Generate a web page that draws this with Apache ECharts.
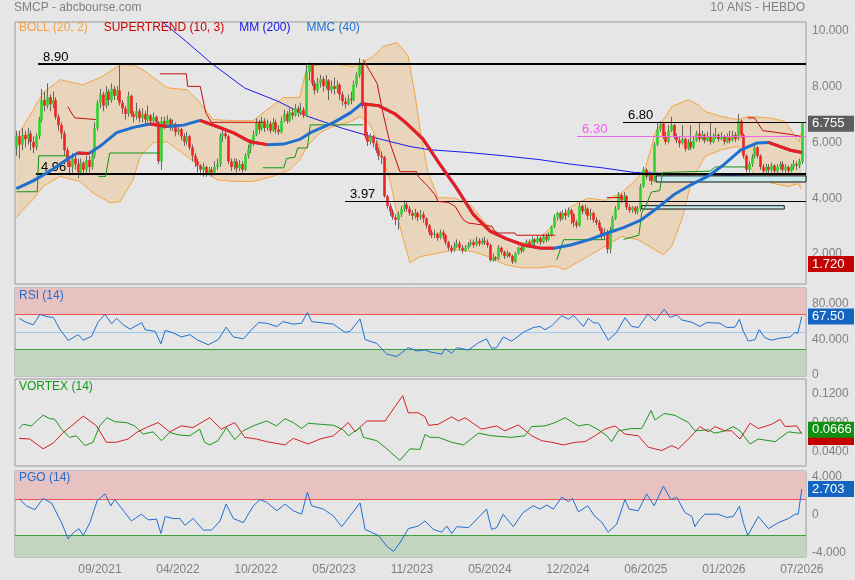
<!DOCTYPE html>
<html><head><meta charset="utf-8">
<script src="https://cdn.jsdelivr.net/npm/echarts@6/dist/echarts.min.js"></script>
<style>html,body{margin:0;padding:0;background:#e6e6e6;}#c{width:855px;height:580px;}</style>
</head><body><div id="c"></div>
<script>
// ---- time axis (weekly candles) ----
const weekStart = Date.UTC(2021, 1, 22);
const weekCount = 284;
const firstLabelWeek = 30, labelEvery = 28;

// ---- weekly OHLC ----
const open = [
5.9,6.3,6.0,6.35,6.2,6.4,6.1,5.9,6.3,6.9,
7.6,7.4,7.7,7.45,7.6,7.0,6.7,6.4,5.8,5.4,
5.2,5.5,5.3,5.0,5.35,5.1,5.45,5.2,5.6,6.6,
7.5,7.8,7.4,7.9,7.6,8.0,7.75,7.95,7.5,7.3,
7.1,7.75,7.1,7.0,7.2,6.95,7.1,6.9,7.05,6.85,
7.0,6.8,5.4,6.85,6.7,6.9,6.6,6.75,6.45,6.55,
6.3,6.1,6.3,5.9,5.6,5.4,5.25,5.1,5.2,4.95,
5.1,5.0,5.2,5.3,6.3,6.4,6.3,5.4,5.2,5.4,
5.15,5.3,5.1,5.6,5.85,6.05,6.35,6.8,6.55,6.85,
6.6,6.75,6.5,6.8,6.55,6.45,6.85,7.1,6.85,7.15,
7.05,7.3,7.15,7.25,7.05,8.6,8.85,8.2,7.95,8.2,
8.35,8.1,8.3,7.95,8.1,8.0,8.15,7.8,7.55,7.45,
7.65,7.6,8.15,8.5,8.85,7.4,6.3,6.1,6.3,6.05,
5.8,5.6,5.55,4.15,3.8,3.6,3.4,3.3,3.5,3.7,
3.85,3.7,3.55,3.45,3.55,3.4,3.5,3.35,3.1,2.85,
2.75,2.8,2.65,2.85,2.75,2.5,2.3,2.2,2.35,2.45,
2.3,2.2,2.3,2.4,2.5,2.4,2.55,2.45,2.55,2.5,
2.4,1.85,1.95,1.9,2.3,2.15,2.0,2.1,2.0,1.8,
2.1,2.3,2.2,2.35,2.5,2.4,2.6,2.5,2.65,2.5,
2.7,2.6,2.75,3.05,3.4,3.55,3.35,3.55,3.45,3.65,
3.5,3.2,3.1,3.8,3.6,3.7,3.45,3.55,3.3,3.2,
3.0,2.75,2.85,2.25,2.95,3.35,3.7,4.2,4.0,4.15,
3.75,3.65,3.75,3.6,3.7,4.5,5.1,4.85,4.95,4.7,
6.0,6.55,6.75,6.3,6.1,6.5,6.7,6.3,6.15,6.05,
6.2,5.85,6.1,5.9,6.15,6.4,6.2,6.35,6.15,6.3,
6.1,6.25,6.35,6.2,6.3,6.1,6.25,6.15,6.35,6.2,
6.85,6.35,5.6,5.1,5.3,5.55,5.9,5.6,5.2,5.05,
5.2,5.1,5.25,5.05,5.2,5.3,5.1,5.2,5.05,5.2,
5.3,5.25,5.4];
const high = [
6.5,6.5,6.6,6.5,6.6,6.5,6.3,6.4,7.0,8.0,
7.9,8.2,7.8,7.9,7.7,7.1,6.8,6.5,5.9,5.6,
5.7,5.7,5.5,5.5,5.4,5.6,5.6,5.8,6.8,7.6,
8.0,7.9,8.1,8.0,8.2,8.1,8.1,8.85,7.6,7.4,
7.9,7.8,7.2,7.5,7.3,7.3,7.2,7.4,7.1,7.15,
7.05,6.85,7.0,7.0,7.05,6.95,6.9,6.8,6.7,6.6,
6.4,6.45,6.35,6.0,5.7,5.5,5.3,5.35,5.25,5.2,
5.2,5.4,5.5,6.4,6.6,6.5,6.35,5.5,5.5,5.5,
5.45,5.4,5.7,6.0,6.2,6.5,6.95,6.9,7.0,6.95,
6.9,6.85,6.95,6.9,6.7,7.0,7.25,7.2,7.3,7.3,
7.45,7.4,7.5,7.35,8.9,8.95,8.9,8.3,8.4,8.5,
8.45,8.5,8.35,8.3,8.4,8.3,8.2,7.9,7.7,7.8,
7.9,8.3,8.6,9.1,8.9,7.45,6.45,6.4,6.35,6.15,
5.9,5.75,5.6,4.2,3.9,3.7,3.5,3.6,3.8,4.0,
3.95,3.8,3.65,3.7,3.6,3.65,3.6,3.4,3.15,2.95,
2.95,2.85,2.95,2.95,2.8,2.55,2.4,2.5,2.6,2.55,
2.4,2.4,2.5,2.6,2.6,2.7,2.65,2.65,2.7,2.6,
2.45,2.1,2.0,2.4,2.35,2.2,2.2,2.15,2.05,2.15,
2.35,2.35,2.45,2.6,2.6,2.7,2.65,2.75,2.7,2.8,
2.8,2.85,3.1,3.5,3.6,3.6,3.65,3.7,3.75,3.7,
3.55,3.3,3.9,3.85,3.85,3.75,3.7,3.6,3.4,3.3,
3.05,3.0,2.95,3.05,3.45,3.8,4.3,4.25,4.3,4.2,
3.85,3.8,3.8,3.8,4.6,5.2,5.15,5.05,5.0,6.1,
6.8,6.85,6.8,6.45,6.7,7.0,6.75,6.4,6.3,6.7,
6.25,6.2,6.7,6.3,6.5,6.8,6.5,6.4,6.45,6.8,
6.4,6.6,6.4,6.45,6.35,6.4,6.5,6.5,6.45,7.1,
6.9,6.4,5.65,5.4,5.65,6.0,5.95,5.65,5.3,5.3,
5.3,5.35,5.3,5.3,5.4,5.4,5.3,5.25,5.3,5.45,
5.4,5.5,6.8];
const low = [
5.6,5.5,5.8,5.9,6.0,5.8,5.7,5.8,6.2,6.8,
7.2,7.3,7.2,7.3,6.9,6.5,6.2,5.6,5.2,4.9,
5.0,5.1,4.8,4.9,4.9,5.0,5.0,5.1,5.5,6.5,
7.3,7.2,7.3,7.4,7.5,7.6,7.6,7.4,7.1,6.9,
7.0,7.0,6.8,6.9,6.8,6.8,6.7,6.8,6.7,6.75,
6.7,5.3,5.1,6.55,6.6,6.5,6.5,6.3,6.35,6.15,
5.95,6.0,5.8,5.4,5.2,5.0,4.9,4.85,4.85,4.9,
4.85,4.9,5.1,5.2,6.1,6.2,5.3,5.05,5.1,5.0,
5.05,5.0,5.05,5.5,5.7,5.95,6.3,6.4,6.5,6.45,
6.5,6.4,6.45,6.4,6.35,6.4,6.8,6.75,6.8,6.9,
7.0,7.0,7.05,6.95,7.0,8.3,8.1,7.8,7.85,8.05,
7.9,8.0,7.6,7.85,7.8,7.85,7.6,7.4,7.3,7.4,
7.45,7.55,8.05,8.4,7.3,6.2,5.95,6.0,5.9,5.7,
5.45,5.3,4.1,3.7,3.45,3.3,3.1,2.95,3.4,3.6,
3.6,3.45,3.3,3.35,3.25,3.3,3.2,3.0,2.75,2.65,
2.65,2.55,2.6,2.6,2.4,2.2,2.1,2.15,2.3,2.2,
2.1,2.15,2.25,2.35,2.3,2.35,2.35,2.4,2.4,2.3,
1.8,1.8,1.82,1.85,2.05,1.9,1.95,1.95,1.72,1.75,
2.05,2.1,2.15,2.3,2.3,2.35,2.4,2.45,2.4,2.45,
2.5,2.55,2.7,3.0,3.3,3.25,3.3,3.3,3.4,3.15,
3.05,3.0,3.05,3.5,3.5,3.3,3.3,3.2,3.1,2.9,
2.6,2.6,2.1,2.1,2.9,3.3,3.65,3.9,3.95,3.65,
3.55,3.55,3.5,3.5,3.6,4.45,4.75,4.7,4.55,4.65,
5.95,6.45,6.2,6.0,6.05,6.45,6.2,6.05,5.9,6.0,
5.75,5.8,5.8,5.85,6.1,6.1,6.15,6.05,6.1,6.0,
6.05,6.2,6.1,6.15,6.0,6.05,6.05,6.1,6.1,6.15,
6.25,5.5,5.0,5.0,5.2,5.5,5.5,5.1,4.95,4.95,
4.95,5.0,4.95,4.95,5.1,5.0,4.95,4.95,5.0,5.1,
5.1,5.15,5.3];
const close = [
6.3,6.0,6.35,6.2,6.4,6.1,5.9,6.3,6.9,7.6,
7.4,7.7,7.45,7.6,7.0,6.7,6.4,5.8,5.4,5.2,
5.5,5.3,5.0,5.35,5.1,5.45,5.2,5.6,6.6,7.5,
7.8,7.4,7.9,7.6,8.0,7.75,7.95,7.5,7.3,7.1,
7.75,7.1,7.0,7.2,6.95,7.1,6.9,7.05,6.85,7.0,
6.8,5.4,6.85,6.7,6.9,6.6,6.75,6.45,6.55,6.3,
6.1,6.3,5.9,5.6,5.4,5.25,5.1,5.2,4.95,5.1,
5.0,5.2,5.3,6.3,6.4,6.3,5.4,5.2,5.4,5.15,
5.3,5.1,5.6,5.85,6.05,6.35,6.8,6.55,6.85,6.6,
6.75,6.5,6.8,6.55,6.45,6.85,7.1,6.85,7.15,7.05,
7.3,7.15,7.25,7.05,8.6,8.85,8.2,7.95,8.2,8.35,
8.1,8.3,7.95,8.1,8.0,8.15,7.8,7.55,7.45,7.65,
7.6,8.15,8.5,8.85,7.4,6.3,6.1,6.3,6.05,5.8,
5.6,5.55,4.15,3.8,3.6,3.4,3.3,3.5,3.7,3.85,
3.7,3.55,3.45,3.55,3.4,3.5,3.35,3.1,2.85,2.75,
2.8,2.65,2.85,2.75,2.5,2.3,2.2,2.35,2.45,2.3,
2.2,2.3,2.4,2.5,2.4,2.55,2.45,2.55,2.5,2.4,
1.85,1.95,1.9,2.3,2.15,2.0,2.1,2.0,1.8,2.1,
2.3,2.2,2.35,2.5,2.4,2.6,2.5,2.65,2.5,2.7,
2.6,2.75,3.05,3.4,3.55,3.35,3.55,3.45,3.65,3.5,
3.2,3.1,3.8,3.6,3.7,3.45,3.55,3.3,3.2,3.0,
2.75,2.85,2.25,2.95,3.35,3.7,4.2,4.0,4.15,3.75,
3.65,3.75,3.6,3.7,4.5,5.1,4.85,4.95,4.7,6.0,
6.55,6.75,6.3,6.1,6.5,6.7,6.3,6.15,6.05,6.2,
5.85,6.1,5.9,6.15,6.4,6.2,6.35,6.15,6.3,6.1,
6.25,6.35,6.2,6.3,6.1,6.25,6.15,6.35,6.2,6.85,
6.35,5.6,5.1,5.3,5.55,5.9,5.6,5.2,5.05,5.2,
5.1,5.25,5.05,5.2,5.3,5.1,5.2,5.05,5.2,5.3,
5.25,5.4,6.755];

// ---- overlays on the price panel: [week, value] ----
const bbUpper = [[0,6.3],[1.3,6.47],[6,7.25],[9.6,7.86],[15.7,8.33],[23.9,8.15],[30,8.4],[37.2,8.86],[41.9,8.86],[45.5,8.68],[54.1,8.04],[61.3,7.97],[65.9,7.5],[70.6,6.9],[77.8,6.86],[85,6.86],[90,7.25],[95.7,7.68],[101.8,7.7],[104.3,8.8],[112.6,8.92],[120.9,8.8],[128,9.15],[131.6,9.52],[136.7,9.66],[140.6,9.2],[143.1,7.8],[145.3,6.3],[147.8,5.0],[151.4,4.1],[157.5,4.08],[163.5,3.79],[169.3,3.07],[175.4,2.65],[181.4,2.47],[187.3,2.59],[193.4,3.19],[199.4,3.79],[205.2,4.08],[211.3,4.0],[217.3,4.27],[222,4.7],[225.7,5.1],[229.3,6.41],[235.3,7.37],[241.1,7.61],[244.8,7.43],[247.3,7.19],[253.2,7.01],[259.1,6.89],[262.7,7.01],[271.2,6.95],[276,6.83],[279.6,6.3],[281,6.1],[282,6.5]];
const bbLower = [[0,3.38],[1.3,3.55],[6,4.03],[9.6,4.5],[15.7,4.86],[22.8,4.68],[27.5,4.27],[33.6,3.92],[37.2,3.95],[41.9,4.74],[44.4,5.57],[49,6.07],[54.1,6.1],[58.7,5.77],[65.9,5.21],[72,4.74],[77.8,4.68],[85,4.68],[92.1,4.86],[98.2,5.1],[101.8,5.46],[104.3,5.93],[109,6.43],[113.7,6.65],[119.8,6.82],[123.4,7.0],[126.5,6.8],[129.5,6.18],[134.1,4.74],[137.7,3.06],[141.3,1.76],[144.9,1.98],[151.4,2.11],[157.5,2.23],[163.5,2.17],[169.3,1.99],[175.4,1.7],[181.4,1.58],[187.3,1.58],[193.4,1.64],[197,1.52],[205.2,1.99],[211.3,2.35],[217.3,2.71],[223.2,2.59],[229.3,2.23],[232.2,2.05],[235.3,2.35],[238.9,3.31],[242.5,4.74],[247.3,5.58],[253.2,5.82],[259.1,5.94],[261.6,5.46],[265.2,4.92],[271.2,4.62],[277,4.5],[280.6,4.6],[282,4.4]];
const mm200 = [[50,10.6],[61,9.7],[70,8.92],[82,8.03],[94,7.55],[105,7.0],[117,6.59],[129,6.24],[141,5.94],[148,5.82],[162,5.72],[175,5.6],[188,5.46],[199,5.3],[211,5.16],[222,5.0],[240,4.95],[260,4.88],[282,4.8]];
const mmc40 = [[0,4.42],[6,4.7],[12,5.05],[18,5.46],[22,5.7],[26,5.68],[30,5.94],[36,6.43],[42,6.62],[48,6.74],[54,6.65],[60,6.7],[66,6.87],[72,6.65],[78,6.42],[84,6.1],[90,6.0],[96,6.02],[102,6.2],[106,6.45],[114,6.8],[120,7.15],[124,7.47],[130,7.4],[136,7.1],[140,6.77],[146,6.2],[152,5.3],[158,4.45],[164,3.5],[170,2.9],[176,2.62],[182,2.4],[188,2.29],[193,2.28],[199,2.4],[206,2.6],[212,2.82],[218,3.02],[224,3.28],[230,3.72],[236,4.2],[242,4.55],[248,4.85],[254,5.28],[260,5.8],[266,6.06],[270,6.08],[274,5.94],[278,5.8],[282,5.72]];
const stGreen = [[0,4.31],[7.5,4.31],[8,5.6],[18.5,5.6],[19,null],
  [29.5,4.86],[32,4.86],[33.5,5.7],[51.5,5.7],[52,null],
  [88.5,5.17],[96,5.17],[97,5.5],[100,5.55],[101,5.88],[104.5,5.88],[105.5,6.71],[124.5,6.71],[125,null],
  [194,1.87],[196,2.45],[196.5,2.59],[211.5,2.59],[212,null],
  [218,2.6],[223.5,2.75],[224.5,3.55],[226,3.8],[228,4.3],[231,4.35],[232,5.0],[249,5.05],[251,5.2],[262,5.2]];
const stRed = [[18.5,7.36],[20,7.1],[21,6.96],[28.5,6.9],[29,null],
  [51.5,8.54],[61,8.54],[61.5,8.09],[66,8.09],[68,7.14],[70,6.8],[88.5,6.8],[89,null],
  [124.5,9.05],[129.5,8.2],[131.6,7.14],[134.1,6.07],[137.7,5.03],[143.7,5.03],[144.3,4.86],[147.8,4.5],[150.3,4.2],[151.4,3.96],[155,3.93],[157.5,3.79],[160.4,3.31],[162.2,3.19],[170.8,3.07],[171.8,2.89],[173,2.83],[179,2.83],[179.5,2.75],[193.5,2.75],[194,null],
  [212,4.1],[217.5,4.1],[218,null],
  [262.5,6.96],[265,6.96],[268,6.5],[272,6.45],[279,6.35],[281.5,6.3]];

// ---- horizontal levels and zones ----
const levelValues = [8.90, 4.96, 3.97, 6.80, 6.30];
const levelFromWeek = [7.8, 7.0, 118, 217.8, 201.3];
const zoneRects = [[229.7, 283.5, 4.66, 4.88], [224.5, 275.7, 3.69, 3.81]]; // [fromWeek, toWeek, low, high]
const lastPrice = 6.755, lowMark = 1.72;

// ---- indicators: [week, value] ----
const rsi14 = [[1,65.6],[3,61.8],[6,58.1],[8.5,70],[11,67.4],[13.3,66.6],[15.7,52.6],[18.6,40.4],[22.2,47],[24,40.7],[27,45.2],[29.4,61.8],[31.8,70],[34.2,59.3],[36,65.6],[38.4,58.1],[40.8,53.3],[45,60.7],[46.2,52.6],[49.8,50.7],[51.9,36.6],[53.4,51.8],[56.3,48.9],[59.3,44.4],[62.3,47],[64.7,41.4],[68.9,35.5],[72.5,41.4],[75.3,55.5],[77.9,44.4],[81.5,42.2],[83.9,50.7],[86.9,60.7],[89.9,60],[93.5,56.3],[95.8,61.8],[99.4,58.9],[102.4,60],[104.5,72.2],[106,61.8],[109,60.7],[113.8,58.9],[118,49.6],[119.8,50.7],[123.4,64.8],[125.2,41.4],[129.4,37],[133,24.8],[136.6,22.2],[140.7,32.2],[143.7,28.5],[146.7,29.6],[148.5,27.4],[152.7,24.8],[153.9,31.1],[156.3,25.9],[158.1,32.2],[162.3,29.6],[165.9,37.8],[168.8,42.2],[170.6,31.5],[172.4,32.2],[174.8,44.4],[177.8,39.6],[182,49.6],[185.6,55.1],[188,56.3],[189.8,52.6],[192.2,57],[195.8,68.5],[198.2,64.4],[200,68.9],[203.6,56.3],[205.3,65.6],[207.1,60.7],[209,60],[210.7,50.7],[212.5,40.7],[215.5,49.6],[218.5,66.3],[220.9,56.3],[223.3,55.1],[226.7,70.4],[229.3,62.6],[232.6,75.9],[234.7,66.6],[237.1,69.3],[238.9,63.7],[242.5,61.1],[245.4,56.3],[247.8,60.7],[252.6,60],[255,55.1],[258,55.5],[259.6,64.4],[261,50.7],[262.8,39.6],[265.2,41.4],[266.7,52.6],[268.8,43.3],[271.2,40.7],[274.2,43],[277.8,44.4],[279.6,49.6],[280.5,48.1],[282,67.5]];
const viPlus = [[1,0.0717],[2.4,0.0776],[5.4,0.0753],[9.6,0.0902],[12,0.0853],[13.8,0.0844],[16.2,0.0708],[19.1,0.0595],[21.5,0.0617],[24.6,0.0481],[27.5,0.0527],[29.9,0.0753],[32.5,0.0866],[35.3,0.0812],[39.5,0.0799],[42.5,0.0753],[45.5,0.064],[49.1,0.0671],[52.1,0.0549],[55,0.0662],[58.6,0.0626],[62.3,0.0617],[65.8,0.0708],[67.6,0.0527],[69.4,0.0491],[72.4,0.0549],[75.4,0.0731],[78.4,0.0563],[81.4,0.0685],[85,0.0753],[89.8,0.0821],[93.4,0.0753],[96.4,0.0853],[99.4,0.0799],[102.4,0.0717],[104.8,0.079],[109,0.0776],[113.8,0.0762],[117.4,0.0699],[119.2,0.0617],[123.4,0.0731],[124.6,0.0595],[129.4,0.0549],[133,0.0437],[137.7,0.0278],[141.3,0.0437],[144.9,0.0428],[146.7,0.0635],[148.5,0.0595],[151.5,0.0595],[156.3,0.0527],[160.5,0.0491],[165.9,0.0653],[170.6,0.0617],[177.8,0.0595],[182.6,0.0617],[185,0.0744],[189.8,0.0753],[193.4,0.0799],[197,0.0866],[201.8,0.0753],[205.3,0.0776],[209,0.0699],[212,0.0617],[213.7,0.0536],[216.1,0.0685],[220.9,0.0717],[224.5,0.0717],[227.9,0.0965],[229.3,0.0834],[232.6,0.0925],[236.5,0.0898],[241.3,0.0799],[243.6,0.0685],[248.4,0.0699],[250.8,0.0653],[254.4,0.0685],[257.4,0.0744],[259.8,0.0685],[263.4,0.0504],[266.4,0.0572],[272.4,0.0536],[277.2,0.0671],[280.8,0.0653],[282,0.0666]];
const viMinus = [[1,0.0581],[4.8,0.0572],[9.6,0.0437],[13.3,0.0518],[16.8,0.0662],[19.8,0.0753],[24,0.0888],[26.4,0.0821],[28.8,0.0753],[32.3,0.0527],[35.9,0.0527],[40.1,0.0572],[43.1,0.0662],[46.7,0.0731],[50.9,0.0799],[55,0.0671],[59.2,0.0753],[63.4,0.0731],[69.4,0.0866],[73.6,0.0708],[78.4,0.0799],[82,0.0595],[86.2,0.0572],[89.8,0.0536],[96.4,0.0491],[99.4,0.0581],[104.8,0.0504],[109,0.0572],[113.8,0.0617],[119.2,0.0799],[121.6,0.0671],[125.8,0.0821],[132.4,0.0821],[136,0.1024],[138.7,0.1169],[140.7,0.0934],[144.3,0.0934],[146.7,0.088],[148,0.076],[151.5,0.0776],[156.3,0.0879],[158.7,0.0821],[161.1,0.0866],[167,0.0708],[172.4,0.0753],[175.4,0.0685],[180.2,0.0767],[185,0.0617],[188.6,0.0549],[192.2,0.0527],[196.4,0.0491],[200.6,0.0527],[204.2,0.0536],[207.7,0.0617],[211.3,0.0708],[214.9,0.0753],[218.5,0.064],[223.3,0.0617],[226.9,0.0459],[231.7,0.0414],[235.3,0.0481],[237.7,0.0437],[241.9,0.0595],[245.4,0.0744],[248.4,0.0671],[250.8,0.0744],[254.4,0.0685],[256.8,0.0685],[259.8,0.0572],[263.4,0.079],[266.4,0.0717],[271.2,0.0776],[274.2,0.0844],[276,0.0744],[280.2,0.0753],[282,0.0640]];
const pgo14 = [[1,1.65],[3.6,0.92],[6.6,0.5],[9.6,1.7],[12.6,1.22],[16.2,-0.86],[18.6,-2.58],[20.4,-1.94],[22.5,-1.5],[24,-2.23],[26.4,-0.86],[29,1.46],[31.8,2.18],[33.9,0.92],[35.3,1.58],[38.9,0.22],[41.3,-0.69],[44.9,0.03],[47.3,-0.57],[50.3,-0.5],[51.9,-2.01],[53.4,-0.21],[56.3,-0.43],[58.7,-0.43],[60.5,-1.15],[63.5,-0.43],[67.1,-1.65],[70.1,-1.65],[73.1,-0.69],[75.3,1.11],[77.9,-0.43],[81.5,-0.86],[85.1,0.92],[87.5,1.58],[89.9,1.29],[93.5,0.39],[96.4,1.11],[99.4,0.39],[102.4,0.03],[104.5,2.36],[106,0.92],[110.2,0.57],[113.8,-0.14],[116.8,-1.29],[119.8,-0.14],[123.4,1.22],[125.2,-1.58],[130,-2.23],[133,-3.37],[135.4,-3.91],[137.7,-3.01],[140.7,-1.5],[144.3,-1.22],[146.7,-0.69],[149.7,-1.58],[152.7,-1.87],[154.5,-1.22],[156.3,-2.01],[158.1,-1.29],[162.3,-1.4],[165.9,-0.32],[168.8,0.57],[170.6,-1.58],[172.4,-1.4],[174.8,0.03],[178.4,-1.29],[182,0.22],[185.6,0.92],[188,0.57],[190.4,1.0],[192.8,0.57],[195.8,1.83],[198.2,1.36],[199.6,1.7],[201.8,0.28],[205.1,0.92],[207.7,-0.21],[210.1,-0.79],[212.5,-1.87],[215.5,-1.04],[218.5,1.58],[220,0.57],[223.3,0.39],[226.3,2.18],[229,0.92],[232.3,3.0],[235,1.58],[237.1,1.83],[240,0.22],[242.5,-0.21],[243.6,-1.29],[245.4,-0.5],[247.2,0.03],[252,0.03],[255,-0.32],[257.4,-0.21],[259.6,0.86],[261,-0.86],[262.6,-2.23],[266.4,-0.21],[270,-1.5],[273.6,-0.86],[277.2,-0.43],[279.6,0.03],[280.7,0.03],[282,2.703]];
const rsiBands = {high: 70, mid: 50, low: 30};
const pgoBands = {high: 1.6, low: -2.25};

// ---- build ----
const FONT = '"Liberation Sans", Arial, sans-serif';
const weeks = Array.from({length: weekCount}, (_, i) => {
  const d = new Date(weekStart + i * 7 * 86400000);
  return String(d.getUTCMonth() + 1).padStart(2, '0') + '/' + d.getUTCFullYear();
});
const candleRows = open.map((o, i) => [i, o, close[i], low[i], high[i]]);
const mmcFalling = [];
for (let k = 0; k < mmc40.length - 1; k++) {
  const a = mmc40[k], b = mmc40[k + 1];
  const last = mmcFalling[mmcFalling.length - 1];
  if (b[1] < a[1]) {
    if (!last || last[0] !== a[0]) mmcFalling.push(a);
    mmcFalling.push(b);
  } else if (last && last[1] !== null) {
    mmcFalling.push([a[0] + 0.01, null]);
  }
}
const XMAX = weekCount - 0.5;
function xVal(grid) { return {type: 'value', gridIndex: grid, min: -0.5, max: XMAX, show: false}; }
function yAx(grid, min, max, interval, fmt, lift) {
  return {type: 'value', gridIndex: grid, position: 'right', min, max, interval,
    axisLine: {show: false, onZero: false}, axisTick: {show: false}, splitLine: {show: false},
    axisLabel: {color: '#808080', fontSize: 12, margin: 6, fontFamily: FONT,
      formatter: v => { const t = fmt(v); return t ? '{v|' + t + '}' : ''; },
      rich: {v: {color: '#808080', fontSize: 12, fontFamily: FONT, padding: [0, 0, lift || 0, 0]}}}};
}
function line(name, x, y, data, color, width, z) {
  return {type: 'line', name, xAxisIndex: x, yAxisIndex: y, data, symbol: 'none', silent: true,
    connectNulls: false, z: z || 2, lineStyle: {color, width: width || 1}, itemStyle: {color}};
}
function tag(value, text, bg, fg) {
  return {yAxis: value, lineStyle: {color: 'rgba(0,0,0,0)', width: 1, type: 'solid'},
    label: {show: true, position: 'end', formatter: text, color: fg || '#fff', backgroundColor: bg,
      padding: [2, 4, 1, 4], fontSize: 13, distance: 2, width: 38, fontFamily: FONT}};
}
function hline(value, color) {
  return {yAxis: value, lineStyle: {color, width: 1, type: 'solid'}, label: {show: false}};
}
const levelStyle = [
  {w: 2, c: '#000', tc: '#000'}, {w: 2, c: '#000', tc: '#000'}, {w: 1, c: '#000', tc: '#000'},
  {w: 1, c: '#000', tc: '#000'}, {w: 1, c: '#ee66ee', tc: '#ff55ff'}];
const levelLines = levelValues.map((v, k) => [
  {coord: [levelFromWeek[k], v], lineStyle: {color: levelStyle[k].c, width: levelStyle[k].w, type: 'solid'},
    label: {show: true, position: 'insideStartTop', formatter: v.toFixed(2), color: levelStyle[k].tc,
      fontSize: 13, distance: [5, 0], fontFamily: FONT}},
  {coord: [XMAX, v]}]);

const gridBase = {left: 15, right: 49, show: true, borderColor: '#9a9a9a', borderWidth: 1, backgroundColor: 'transparent'};
const titleStyle = (c) => ({fontSize: 12, fontWeight: 'normal', color: c, fontFamily: FONT});
const viMinusLast = viMinus[viMinus.length - 1][1];

const option = {
  animation: false,
  backgroundColor: '#e6e6e6',
  textStyle: {fontFamily: FONT},
  title: [
    {text: 'SMCP - abcbourse.com', left: 14, top: 2, padding: 0, textStyle: titleStyle('#808080')},
    {text: '10 ANS - HEBDO', right: 50, top: 2, padding: 0, textStyle: titleStyle('#808080')},
    {text: '{a|BOLL (20, 2)}{b|SUPERTREND (10, 3)}{c|MM (200)}{d|MMC (40)}', left: 19, top: 22, padding: 0,
      textStyle: {fontSize: 12, fontWeight: 'normal', fontFamily: FONT, rich: {
        a: {color: '#f5a040', fontSize: 12, padding: [0, 16, 0, 0]},
        b: {color: '#cc0000', fontSize: 12, padding: [0, 15, 0, 0]},
        c: {color: '#1414ee', fontSize: 12, padding: [0, 16, 0, 0]},
        d: {color: '#1e6fd0', fontSize: 12}}}},
    {text: 'RSI (14)', left: 19, top: 290, padding: 0, textStyle: titleStyle('#1f6fd0')},
    {text: 'VORTEX (14)', left: 19, top: 381, padding: 0, textStyle: titleStyle('#139a13')},
    {text: 'PGO (14)', left: 19, top: 472, padding: 0, textStyle: titleStyle('#1f6fd0')}
  ],
  grid: [
    Object.assign({top: 22, height: 262}, gridBase),
    Object.assign({top: 288, height: 88}, gridBase),
    Object.assign({top: 379, height: 87}, gridBase),
    Object.assign({top: 471, height: 86}, gridBase)
  ],
  xAxis: [xVal(0), xVal(1), xVal(2), xVal(3),
    {type: 'category', gridIndex: 3, position: 'bottom', data: weeks, boundaryGap: true,
      axisLine: {show: false, onZero: false}, axisTick: {show: false}, splitLine: {show: false},
      axisLabel: {color: '#808080', fontSize: 12, margin: 7, fontFamily: FONT,
        interval: (i) => i >= firstLabelWeek && (i - firstLabelWeek) % labelEvery === 0}}],
  yAxis: [
    yAx(0, 1, 10.4, 1, v => { const r = Math.round(v); return (Math.abs(r - v) < 1e-9 && r % 2 === 0) ? v.toFixed(3) : ''; }, 4),
    yAx(1, 0, 100, 20, v => v === 0 ? '0' : ((v === 40 || v === 80) ? v.toFixed(3) : ''), 3),
    yAx(2, 0.02, 0.14, 0.02, v => { const k = Math.round(v / 0.04); return (k >= 1 && k <= 3 && Math.abs(k * 0.04 - v) < 1e-6) ? v.toFixed(4) : ''; }),
    yAx(3, -4.5, 4.6, 0.5, v => Math.abs(v) < 1e-9 ? '0' : (Math.abs(Math.abs(v) - 4) < 1e-9 ? v.toFixed(3) : ''))
  ],
  series: [
    // Bollinger fill
    {type: 'custom', name: 'BOLL (20, 2)', xAxisIndex: 0, yAxisIndex: 0, z: 1, silent: true, data: [[0, 5]],
      renderItem: (params, api) => {
        const pts = bbUpper.map(p => api.coord(p)).concat(bbLower.slice().reverse().map(p => api.coord(p)));
        return {type: 'polygon', shape: {points: pts}, style: {fill: '#e9d5bc'}};
      }},
    line('BOLL up', 0, 0, bbUpper, '#f4a443', 1, 2),
    line('BOLL low', 0, 0, bbLower, '#f4a443', 1, 2),
    line('MM (200)', 0, 0, mm200, '#1a1af0', 1, 2),
    // candles
    {type: 'custom', name: 'SMCP', xAxisIndex: 0, yAxisIndex: 0, z: 3, silent: true, clip: true,
      encode: {x: 0, y: [1, 2, 3, 4]}, data: candleRows,
      renderItem: (params, api) => {
        const x = api.value(0), o = api.value(1), c = api.value(2), l = api.value(3), h = api.value(4);
        const top = api.coord([x, Math.max(o, c)]), bot = api.coord([x, Math.min(o, c)]);
        const hi = api.coord([x, h]), lo = api.coord([x, l]);
        const px = Math.round(top[0]);
        return {type: 'group', children: [
          {type: 'line', shape: {x1: px + 0.5, y1: hi[1], x2: px + 0.5, y2: lo[1]}, style: {stroke: '#666', lineWidth: 1}},
          {type: 'rect', shape: {x: px - 0.8, y: top[1], width: 2.6, height: Math.max(1, bot[1] - top[1])},
            style: {fill: c >= o ? '#2ed12e' : '#ee2222'}}
        ]};
      }},
    // levels, zones and tags
    {type: 'line', name: 'levels', xAxisIndex: 0, yAxisIndex: 0, data: [], z: 4, silent: true,
      markArea: {silent: true, z: 4, itemStyle: {color: '#c9eaea', borderColor: '#111', borderWidth: 1},
        data: zoneRects.map(r => [{coord: [r[0], r[3]]}, {coord: [r[1], r[2]]}])},
      markLine: {silent: true, z: 5, symbol: ['none', 'none'], animation: false,
        data: levelLines.concat([tag(lastPrice, lastPrice.toFixed(3), '#5e5e5e'), tag(lowMark, lowMark.toFixed(3), '#c40000')])}},
    line('SUPERTREND (10, 3)', 0, 0, stGreen, '#129612', 1, 5),
    line('SUPERTREND red', 0, 0, stRed, '#c80c0c', 1, 5),
    line('MMC (40)', 0, 0, mmc40, '#1e6fd0', 3, 6),
    line('MMC down', 0, 0, mmcFalling, '#ee1c1c', 3, 6),
    // RSI panel
    {type: 'line', name: 'rsi zones', xAxisIndex: 1, yAxisIndex: 1, data: [], z: 1, silent: true,
      markArea: {silent: true, z: 1, data: [
        [{yAxis: rsiBands.high, itemStyle: {color: '#e8c1c1'}}, {yAxis: 100}],
        [{yAxis: 0, itemStyle: {color: '#c3d5c1'}}, {yAxis: rsiBands.low}]]},
      markLine: {silent: true, z: 2, symbol: ['none', 'none'], data: [
        hline(rsiBands.high, '#f25252'), hline(rsiBands.mid, '#9cccf4'), hline(rsiBands.low, '#3f9f3f')]}},
    Object.assign(line('RSI (14)', 1, 1, rsi14, '#1f6fd0', 1, 3), {
      markLine: {silent: true, z: 8, symbol: ['none', 'none'], data: [tag(67.5, '67.50', '#1565c0')]}}),
    // VORTEX panel
    Object.assign(line('VI-', 2, 2, viMinus, '#d42020', 1, 3), {
      markLine: {silent: true, z: 7, symbol: ['none', 'none'], data: [tag(viMinusLast, viMinusLast.toFixed(4), '#c40000', '#c40000')]}}),
    Object.assign(line('VI+', 2, 2, viPlus, '#1e961e', 1, 4), {
      markLine: {silent: true, z: 8, symbol: ['none', 'none'], data: [tag(0.0666, '0.0666', '#109010')]}}),
    // PGO panel
    {type: 'line', name: 'pgo zones', xAxisIndex: 3, yAxisIndex: 3, data: [], z: 1, silent: true,
      markArea: {silent: true, z: 1, data: [
        [{yAxis: pgoBands.high, itemStyle: {color: '#e8c1c1'}}, {yAxis: 4.6}],
        [{yAxis: -4.5, itemStyle: {color: '#c3d5c1'}}, {yAxis: pgoBands.low}]]},
      markLine: {silent: true, z: 2, symbol: ['none', 'none'], data: [
        hline(pgoBands.high, '#f25252'), hline(pgoBands.low, '#3f9f3f')]}},
    Object.assign(line('PGO (14)', 3, 3, pgo14, '#1f6fd0', 1, 3), {
      markLine: {silent: true, z: 8, symbol: ['none', 'none'], data: [tag(2.703, '2.703', '#1565c0')]}}),
    // category axis holder for date labels
    {type: 'line', name: 'dates', xAxisIndex: 4, yAxisIndex: 3, data: [], silent: true}
  ]
};
const chart = echarts.init(document.getElementById('c'), null, {renderer: 'canvas'});
chart.setOption(option);
</script>
</body></html>
